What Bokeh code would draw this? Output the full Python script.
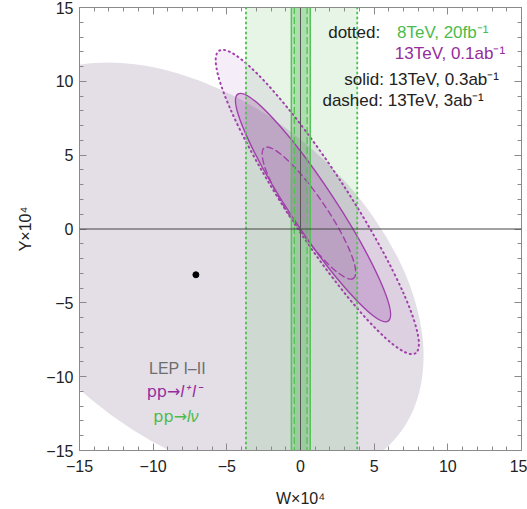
from bokeh.plotting import figure
from bokeh.models import (Range1d, Span, Label, LinearAxis, FixedTicker,
                          CustomJSTickFormatter)
from bokeh.embed import file_html
from bokeh.resources import INLINE
import math

# ---------------- data ----------------
x_major_ticks = [-15, -10, -5, 0, 5, 10, 15]
y_major_ticks = [-15, -10, -5, 0, 5, 10, 15]
minor_ticks = [v for v in range(-15, 16)]
tick_labels = {-15: "\u221215", -10: "\u221210", -5: "\u22125", 0: "0",
               5: "5", 10: "10", 15: "15"}
x_limits = [-15, 15]
y_limits = [-15, 15]

# LEP I-II best fit point
lep_point_x = [-7.1]
lep_point_y = [-3.1]

# ellipses: LEP, 13TeV 0.1ab-1 (dotted), 0.3ab-1 (solid), 3ab-1 (dashed)
ell_names = ["LEP I-II", "13TeV 0.1ab-1", "13TeV 0.3ab-1", "13TeV 3ab-1"]
ell_cx = [-6.9, 1.14, 0.85, 0.57]
ell_cy = [-2.9, 1.83, 1.45, 1.08]
ell_semi_major = [17.5, 12.24, 9.24, 5.37]
ell_semi_minor = [11.3, 2.1, 1.52, 1.17]
ell_angle_deg = [-40.0, -57.0, -56.5, -55.7]

# pp -> l nu bands in W: 8TeV 20fb-1 (dotted), 13TeV 0.3ab-1 (solid), 13TeV 3ab-1 (dashed)
band_names = ["8TeV 20fb-1", "13TeV 0.3ab-1", "13TeV 3ab-1"]
band_lo = [-3.7, -0.62, -0.42]
band_hi = [3.85, 0.66, 0.45]

# ---------------- styles ----------------
FONT = "Liberation Sans"
GREEN = "#55c255"
GREEN_TXT = "#4cbb4c"
PURPLE = "#a040aa"
PURPLE_TXT = "#952c9d"
FRAME = "#8a8a8a"

p = figure(width=527, height=509, output_backend="svg", toolbar_location=None,
           x_range=Range1d(*x_limits), y_range=Range1d(*y_limits),
           x_axis_location=None, y_axis_location=None,
           min_border_left=79, min_border_right=6, min_border_top=7,
           min_border_bottom=57)
p.grid.visible = False
p.outline_line_color = FRAME
p.outline_line_width = 1
p.background_fill_color = "white"
p.border_fill_color = "white"


def style_axis(ax, labels=True):
    ax.ticker = FixedTicker(ticks=x_major_ticks, minor_ticks=minor_ticks)
    ax.axis_line_color = FRAME
    ax.major_tick_line_color = FRAME
    ax.minor_tick_line_color = FRAME
    ax.major_tick_in = 7
    ax.major_tick_out = 0
    ax.minor_tick_in = 4
    ax.minor_tick_out = 0
    ax.major_label_text_font = FONT
    ax.major_label_text_font_size = "16px"
    ax.major_label_text_color = "#222222"
    ax.axis_label_text_font = FONT
    ax.axis_label_text_font_size = "16px"
    ax.axis_label_text_font_style = "normal"
    ax.axis_label_text_color = "#222222"
    if labels:
        ax.major_label_overrides = tick_labels
    else:
        ax.formatter = CustomJSTickFormatter(code="return ''")
        ax.major_label_standoff = 0


xb = LinearAxis(axis_label="W\u00d710\u2074")
style_axis(xb)
xb.major_label_standoff = 9
xb.axis_label_standoff = 15
p.add_layout(xb, "below")

yl = LinearAxis(axis_label="Y\u00d710\u2074")
style_axis(yl)
yl.major_label_standoff = 6
yl.axis_label_standoff = 9
p.add_layout(yl, "left")

xt = LinearAxis()
style_axis(xt, labels=False)
p.add_layout(xt, "above")
yr = LinearAxis()
style_axis(yr, labels=False)
p.add_layout(yr, "right")

# LEP ellipse (opaque base)
p.ellipse(x=[ell_cx[0]], y=[ell_cy[0]], width=[2 * ell_semi_major[0]],
          height=[2 * ell_semi_minor[0]], angle=[math.radians(ell_angle_deg[0])],
          fill_color="#e4dfe7", line_color=None)

# green band fills
band_fill_alpha = [0.14, 0.28, 0.12]
for lo, hi, fa in zip(band_lo, band_hi, band_fill_alpha):
    p.quad(left=[lo], right=[hi], bottom=[y_limits[0]], top=[y_limits[1]],
           fill_color="#4cb84c", fill_alpha=fa, line_color=None)

# purple ellipse fills + outlines
dashes = ["1 4", "solid", "6 4"]
fills = [0.10, 0.28, 0.06]
widths = [2.0, 1.4, 1.4]
for i in range(1, 4):
    p.ellipse(x=[ell_cx[i]], y=[ell_cy[i]], width=[2 * ell_semi_major[i]],
              height=[2 * ell_semi_minor[i]], angle=[math.radians(ell_angle_deg[i])],
              fill_color="#a050ad", fill_alpha=fills[i - 1],
              line_color=PURPLE, line_width=widths[i - 1],
              line_dash=dashes[i - 1], line_cap="round")

# band edges
band_dash = ["1 4", "solid", "6 4"]
band_width = [2.0, 1.5, 1.4]
for lo, hi, d, w in zip(band_lo, band_hi, band_dash, band_width):
    for loc in (lo, hi):
        p.add_layout(Span(location=loc, dimension="height", line_color=GREEN,
                          line_width=w, line_dash=d, line_cap="round"))

# axes lines at zero
p.add_layout(Span(location=0, dimension="width", line_color="#444444", line_width=1))
p.add_layout(Span(location=0, dimension="height", line_color="#555555", line_width=1))

# best-fit point
p.scatter(x=lep_point_x, y=lep_point_y, size=6, color="black")


def lab(x, y, text, color, align="left", style="normal", size="17px", font=FONT):
    p.add_layout(Label(x=x, y=y, text=text, text_color=color, text_font=font,
                       text_font_size=size, text_align=align,
                       text_baseline="middle", text_font_style=style))


# legend text (top right)
lab(1.88, 13.3, "dotted:", "#222222")
lab(6.55, 13.3, "8TeV, 20fb\u207b\u00b9", GREEN_TXT)
lab(6.4, 11.9, "13TeV, 0.1ab\u207b\u00b9", PURPLE_TXT)
lab(2.97, 10.15, "solid: 13TeV, 0.3ab\u207b\u00b9", "#222222")
lab(1.49, 8.7, "dashed: 13TeV, 3ab\u207b\u00b9", "#222222")

# process labels (bottom left)
lab(-8.35, -9.47, "LEP I\u2013II", "#6e6e6e", align="center", size="16px")
lab(-8.15, -11.02, "pp\u2192", PURPLE_TXT, align="right", size="16px", font="DejaVu Sans")
lab(-8.15, -11.02, "l\u207a\u2009l\u207b", PURPLE_TXT, align="left", style="italic", size="16px")
lab(-7.7, -12.7, "pp\u2192", GREEN_TXT, align="right", size="16px", font="DejaVu Sans")
lab(-7.7, -12.7, "l\u03bd", GREEN_TXT, align="left", style="italic", size="16px")

open("out.html", "w").write(file_html(p, INLINE))
